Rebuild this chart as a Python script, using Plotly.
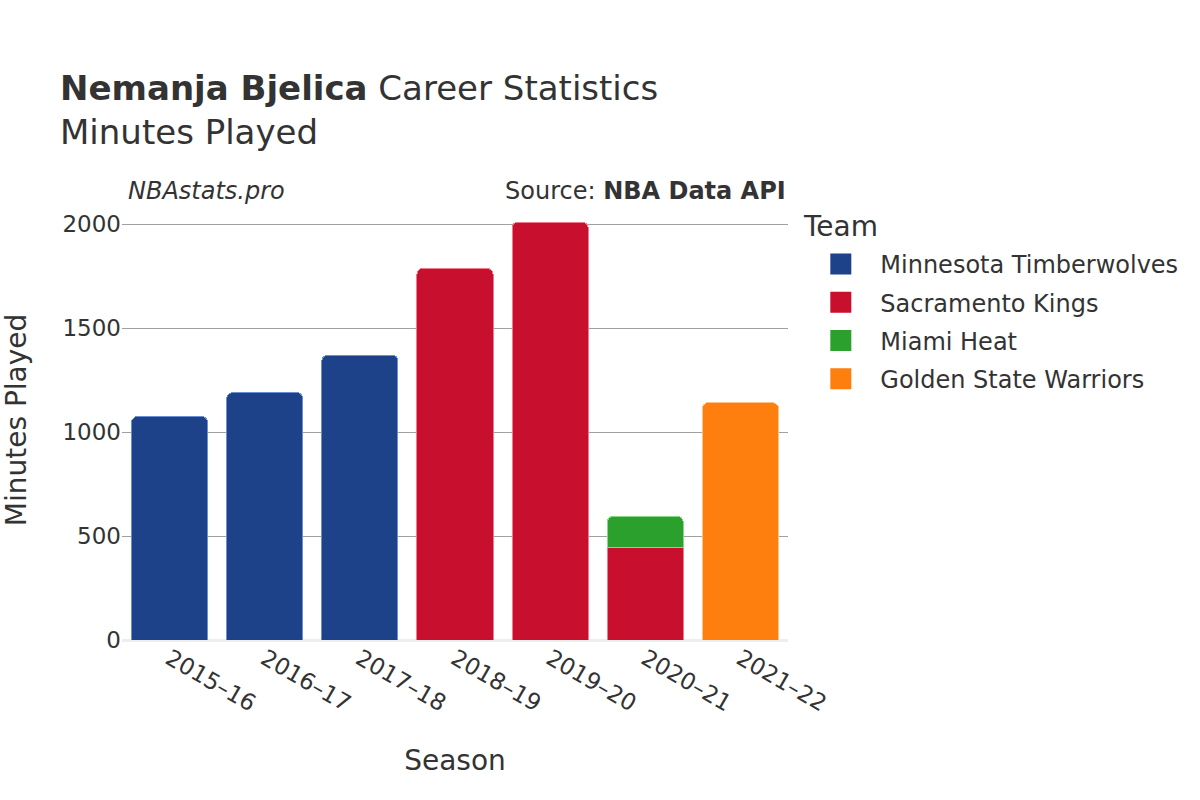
import plotly.graph_objects as go

seasons = ["2015–16", "2016–17", "2017–18", "2018–19", "2019–20", "2020–21", "2021–22"]
teams = ["Minnesota Timberwolves", "Sacramento Kings", "Miami Heat", "Golden State Warriors"]
team_colors = ["#1D428A", "#C8102E", "#2CA02C", "#FF7F0E"]
line_colors = ["#6b8fd6", "#f07a8c", "#8ad88a", "#ffc08a"]
minutes = {
    "Minnesota Timberwolves": [1075, 1190, 1371, None, None, None, None],
    "Sacramento Kings": [None, None, None, 1788, 2011, 444, None],
    "Miami Heat": [None, None, None, None, None, 151, None],
    "Golden State Warriors": [None, None, None, None, None, None, 1142],
}
y_ticks = [0, 500, 1000, 1500, 2000]

FONT = "DejaVu Sans"
fig = go.Figure()
for team, col, lc in zip(teams, team_colors, line_colors):
    fig.add_trace(go.Bar(
        x=seasons, y=minutes[team], name=team, showlegend=False,
        marker=dict(color=col, line=dict(color=lc, width=1)),
    ))
# legend entries (square swatches)
for team, col in zip(teams, team_colors):
    fig.add_trace(go.Scatter(
        x=[None], y=[None], mode="markers", name=team, legendgroup=team,
        marker=dict(symbol="square", size=16, color=col, line=dict(color=col, width=6)),
    ))

fig.update_layout(
    width=1200, height=800,
    barmode="stack", bargap=0.2, barcornerradius=6,
    plot_bgcolor="white", paper_bgcolor="white",
    font=dict(family=FONT, color="#333333"),
    margin=dict(l=122, r=412, t=200, b=160),
    title=dict(
        text="<b>Nemanja Bjelica</b> Career Statistics<br>Minutes Played",
        x=60/1200, xanchor="left", xref="container",
        y=1-100/800, yanchor="top", yref="container",
        font=dict(size=34, family=FONT, color="#333333"),
    ),
    legend=dict(
        font=dict(size=24, family=FONT),
        traceorder="grouped", itemwidth=69, tracegroupgap=4,
        x=1.02, xanchor="left", y=(640-242)/440, yanchor="top",
    ),
    xaxis=dict(
        title=dict(text="Season", font=dict(size=28, family=FONT), standoff=34),
        tickangle=30, tickfont=dict(size=23, family=FONT),
        showgrid=False, automargin=False,
    ),
    yaxis=dict(
        title=dict(text="Minutes Played", font=dict(size=28, family=FONT), standoff=30),
        range=[0, 2117], tickvals=y_ticks,
        tickfont=dict(size=23, family=FONT),
        showgrid=True, gridcolor="#a0a0a0", gridwidth=1,
        zeroline=True, zerolinecolor="#eeeeee", zerolinewidth=3,
        ticks="", automargin=False,
    ),
    annotations=[
        dict(text="Team", xref="paper", yref="paper",
             x=1.02, y=(640-226)/440, xanchor="left", yanchor="middle",
             showarrow=False, font=dict(size=28, family=FONT, color="#333333")),
        dict(text="<i>NBAstats.pro</i>", xref="paper", yref="paper",
             x=0.006, y=(440+9)/440, xanchor="left", yanchor="middle",
             showarrow=False, font=dict(size=24, family=FONT, color="#333333")),
        dict(text="Source: <b>NBA Data API</b>", xref="paper", yref="paper",
             x=1.0, y=(440+9)/440, xanchor="right", yanchor="middle",
             showarrow=False, font=dict(size=24, family=FONT, color="#333333")),
    ],
)

fig.write_html("out.html", config={"displayModeBar": False},
               post_script="document.body.style.margin='0';")
